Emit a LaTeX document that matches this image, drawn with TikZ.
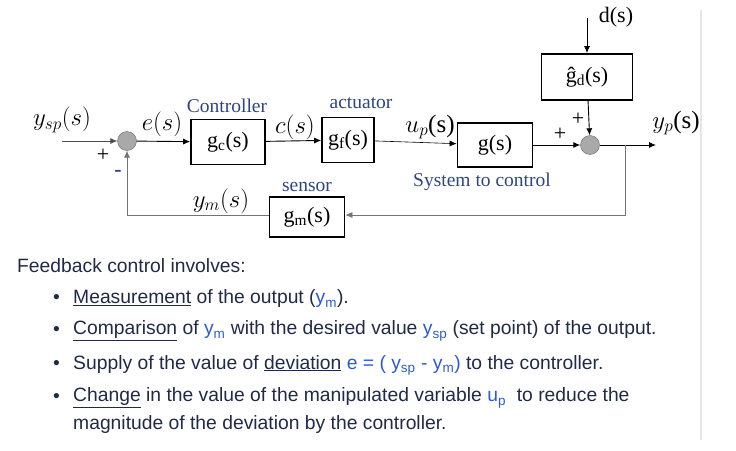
\documentclass[tikz,border=0pt]{standalone}
\usepackage{fontspec}
\setmainfont{Liberation Serif}
\newfontfamily\listfont{Liberation Sans}
\usetikzlibrary{arrows.meta, positioning, calc}
\definecolor{lblblue}{HTML}{2E4584}
\definecolor{txtnavy}{HTML}{1F2A48}
\definecolor{varblue}{HTML}{2A5BD7}
\definecolor{sumgray}{HTML}{A9A9A9}
\definecolor{rulegray}{HTML}{E6E6E6}

\begin{document}
\begin{tikzpicture}[x=1pt, y=-1pt, >={Latex[length=7pt,width=6pt]},
    font=\fontsize{19.5}{22}\selectfont,
    blk/.style={draw, line width=1.7pt, inner sep=0pt, font=\fontsize{22}{24}\selectfont},
    sumpt/.style={circle, draw=black!60, fill=sumgray, minimum size=19pt, inner sep=0pt},
    lbl/.style={text=lblblue, inner sep=1pt},
    mlbl/.style={font=\fontsize{25}{27}\selectfont, inner sep=1pt},
    sgn/.style={font=\fontsize{22}{22}\selectfont, inner sep=0pt},
    sig/.style={->, line width=0.9pt},
    fb/.style={->, line width=0.7pt, draw=black!55},
    item/.style={anchor=west, text=txtnavy, font=\listfont\fontsize{19.3}{22}\selectfont, inner sep=0pt},
    var/.style={text=varblue}]
    \useasboundingbox (0,0) rectangle (736,450);

    % blocks
    \node[sumpt] (s1) at (127,141) {};
    \node[blk, minimum width=74pt, minimum height=45pt] (gc) at (228,142) {g\textsubscript{c}(s)};
    \node[blk, minimum width=52pt, minimum height=45pt] (gf) at (348,140) {g\textsubscript{f}(s)};
    \node[blk, minimum width=75pt, minimum height=44pt] (gp) at (495,145) {g(s)};
    \node[sumpt] (s2) at (590,145) {};
    \node[blk, minimum width=91pt, minimum height=46pt] (gd) at (587,77) {\^{g}\textsubscript{d}(s)};
    \node[blk, minimum width=75pt, minimum height=40pt] (gm) at (307,217) {g\textsubscript{m}(s)};

    \coordinate (in) at (62,141);
    \coordinate (dist) at (587,18);
    \coordinate (out) at (656,145);
    \coordinate (tap) at (625,145);

    % forward path
    \draw[sig, draw=black!70, line width=0.7pt] (in) -- (s1);
    \draw[sig] (s1) -- (gc);
    \draw[sig] (gc) -- (gf);
    \draw[sig, line width=0.6pt] (gf) -- (gp);
    \draw[sig] (gp) -- (s2);
    \draw[sig] (dist) -- (gd);
    \draw[sig] (gd) -- (s2);
    \draw[sig] (s2) -- (out);

    % feedback path
    \draw[fb] (tap) |- (gm.east |- 0,215);
    \draw[fb] (gm.west |- 0,215) -| (s1);

    % labels
    \node[mlbl] (lysp) at (62,120) {$y_{sp}(s)$};
    \node[sgn] (pl1) at (103,155) {+};
    \node[sgn, text=lblblue] (mn1) at (118,173) {\bfseries -};
    \node[mlbl] (le) at (162,124) {$e(s)$};
    \node[lbl] (lctl) at (227,106) {Controller};
    \node[mlbl] (lc) at (295,127) {$c(s)$};
    \node[lbl] (lact) at (361,103) {actuator};
    \node[mlbl] (lup) at (430,127) {$u_p$(s)};
    \node[lbl] (lsys) at (482,182) {System to control};
    \node[sgn] (pl2) at (560,134) {+};
    \node[sgn] (pl3) at (578,119) {+};
    \node[font=\fontsize{22}{24}\selectfont] (ld) at (616,17) {d(s)};
    \node[mlbl] (lyp) at (676,123) {$y_p$(s)};
    \node[lbl] (lsen) at (307,187) {sensor};
    \node[mlbl] (lym) at (221,201) {$y_m(s)$};

    % side rule
    \draw[rulegray, line width=1.2pt] (701,10) -- (701,440);

    % text below
    \node[item] (t0) at (17,266) {Feedback control involves:};
    \foreach \yy in {299,331,365,398} \node[item] at (53,\yy) {\textbullet};
    \node[item] (t1) at (73,299) {\underline{Measurement} of the output (\textcolor{varblue}{y\textsubscript{m}}).};
    \node[item] (t2) at (73,331) {\underline{Comparison} of \textcolor{varblue}{y\textsubscript{m}} with the desired value \textcolor{varblue}{y\textsubscript{sp}} (set point) of the output.};
    \node[item] (t3) at (73,365) {Supply of the value of \underline{deviation} \textcolor{varblue}{e = ( y\textsubscript{sp} - y\textsubscript{m})} to the controller.};
    \node[item] (t4) at (73,398) {\underline{Change} in the value of the manipulated variable \textcolor{varblue}{u\textsubscript{p}}\ \ to reduce the};
    \node[item] (t5) at (73,425) {magnitude of the deviation by the controller.};
\end{tikzpicture}
\end{document}
